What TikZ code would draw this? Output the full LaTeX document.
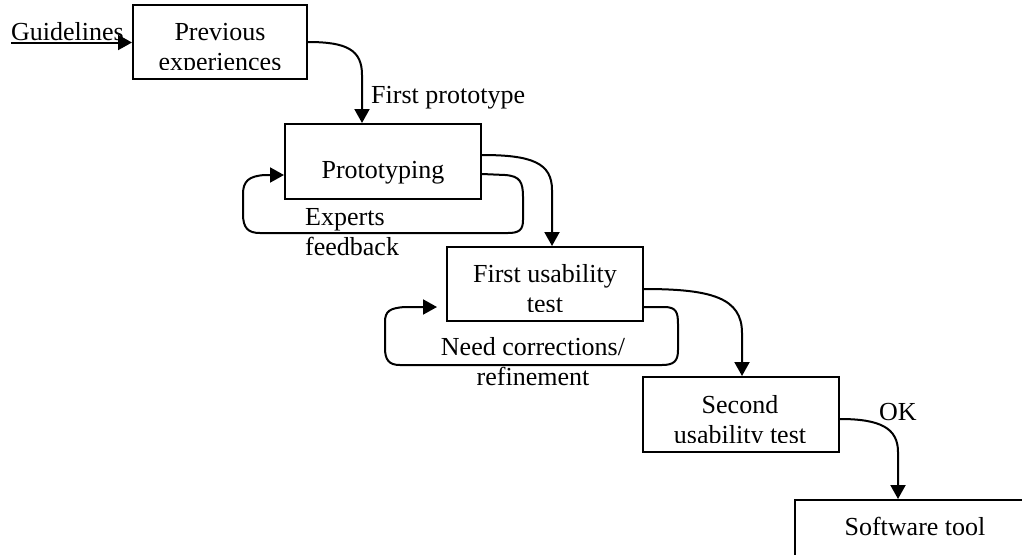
\documentclass[tikz,border=0pt]{standalone}
\usepackage{fontspec}
\setmainfont{Liberation Serif}
\usetikzlibrary{arrows.meta}
\begin{document}
\begin{tikzpicture}[x=1pt,y=-1pt,
  box/.style={draw, line width=2pt, inner sep=0pt},
  txt/.style={font=\fontsize{26}{30}\selectfont, inner sep=0pt},
  conn/.style={line width=2pt, -{Triangle[width=15pt,length=14pt]}}]
\clip (0,0) rectangle (1022,554);
\fill[white] (0,0) rectangle (1022,554);

% boxes
\node[box, minimum width=174pt, minimum height=74pt] (prev) at (220,42) {};
\node[box, minimum width=196pt, minimum height=75pt] (proto) at (383,161.5) {};
\node[box, minimum width=196pt, minimum height=74pt] (fut) at (545,284) {};
\node[box, minimum width=196pt, minimum height=75pt] (sut) at (741,414.5) {};
\node[box, minimum width=260pt, minimum height=80pt] (sw) at (925,540) {};

% box texts (second lines are cut by the box as in the original)
\begin{scope}
\clip (prev.north west) rectangle ([yshift=11pt]prev.south east);
\node[txt, anchor=base] (prevA) at (220,40.7) {Previous};
\node[txt, anchor=base] (prevB) at (220,70.7) {experiences};
\end{scope}
\node[txt, anchor=base] (protoA) at (383,178) {Prototyping};
\begin{scope}
\clip (fut.north west) rectangle ([yshift=10.5pt]fut.south east);
\node[txt, anchor=base] (futA) at (545,282) {First usability};
\node[txt, anchor=base] (futB) at (545,312.5) {test};
\end{scope}
\begin{scope}
\clip (sut.north west) rectangle ([yshift=11pt]sut.south east);
\node[txt, anchor=base] (sutA) at (740,413) {Second};
\node[txt, anchor=base] (sutB) at (740,443) {usability test};
\end{scope}
\node[txt, anchor=base] (swA) at (915,535) {Software tool};

% labels
\node[txt, anchor=base west] (guide) at (11,40.7) {Guidelines};
\node[txt, anchor=base west] (fp) at (371,103) {First prototype};
\node[txt, anchor=base west] (expA) at (305,225) {Experts};
\node[txt, anchor=base west] (expB) at (305,255) {feedback};
\node[txt, anchor=base] (ncA) at (533,355) {Need corrections/};
\node[txt, anchor=base] (ncB) at (533,385) {refinement};
\node[txt, anchor=base west] (ok) at (879,420) {OK};

% connectors
\coordinate (gstart) at (11,42.5);
\draw[conn] (gstart) -- ([yshift=-0.5pt]prev.west);

\draw[conn] (prev.east) .. controls (347,42) and (362,50) .. (362,75) -- ([xshift=-21pt]proto.north);

\draw[conn] ([yshift=6.5pt]proto.east) .. controls (532,155) and (552,163) .. (552,190) -- ([xshift=7pt]fut.north);

\draw[conn] ([yshift=-5pt]fut.east) .. controls (712,289) and (742,298) .. (742,333) -- ([xshift=1pt]sut.north);

\draw[conn] ([yshift=-4.5pt]sut.east) .. controls (880,419) and (898,428) .. (898,452) -- ([xshift=-27pt]sw.north);

% feedback loops
\draw[conn] ([yshift=-12.5pt]proto.east) -- (505,175)
  .. controls (520,176) and (523,182) .. (523,197) -- (523,220)
  .. controls (523,230) and (519,233) .. (508,233) -- (260,233)
  .. controls (248,233) and (243,228) .. (243,214) -- (243,194)
  .. controls (243,181) and (249,176) .. (265,175) -- ([yshift=-13.5pt]proto.west);

\draw[conn] ([yshift=-23pt]fut.east) -- (664,307)
  .. controls (676,307) and (678,312) .. (678,324) -- (678,350)
  .. controls (678,361) and (674,365) .. (662,365) -- (400,365)
  .. controls (389,365) and (385,360) .. (385,348) -- (385,322)
  .. controls (385,311) and (390,308) .. (405,307) -- ([xshift=-9pt,yshift=-23pt]fut.west);
\end{tikzpicture}
\end{document}
